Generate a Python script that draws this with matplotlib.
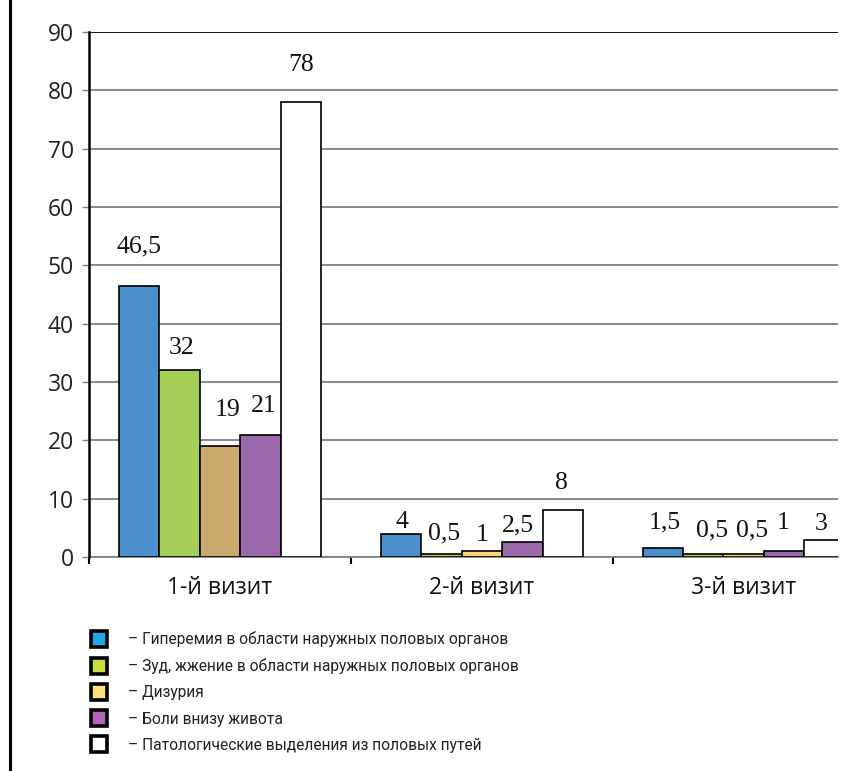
import matplotlib
matplotlib.use("Agg")
import matplotlib.pyplot as plt
import numpy as np
from matplotlib.lines import Line2D

# ---- data ----
visits = ["1-й визит", "2-й визит", "3-й визит"]
series_names = [
    "Гиперемия в области наружных половых органов",
    "Зуд, жжение в области наружных половых органов",
    "Дизурия",
    "Боли внизу живота",
    "Патологические выделения из половых путей",
]
hyperemia = [46.5, 4, 1.5]
itching = [32, 0.5, 0.5]
dysuria = [19, 1, 0.5]
pain = [21, 2.5, 1]
discharge = [78, 8, 3]
value_labels = [
    ["46,5", "4", "1,5"],
    ["32", "0,5", "0,5"],
    ["19", "1", "0,5"],
    ["21", "2,5", "1"],
    ["78", "8", "3"],
]
y_ticks = [0, 10, 20, 30, 40, 50, 60, 70, 80, 90]

# ---- styles ----
series = [hyperemia, itching, dysuria, pain, discharge]
bar_colors = [
    ["#4b8fcd"] * 3,
    ["#a6cf58"] * 3,
    ["#c9a96c", "#f7d475", "#f7d475"],
    ["#9a68ab"] * 3,
    ["#ffffff"] * 3,
]
legend_colors = ["#22a7e2", "#c8dc3a", "#fde07e", "#b363b3", "#ffffff"]
# label offsets in pixels (dx, dy above bar top)
label_off = [
    [(0, 39), (1, 12), (2, 26)],
    [(2, 22), (3, 21), (9, 24)],
    [(8, 36), (0, 16), (8, 24)],
    [(3, 29), (-4, 17), (-1, 28)],
    [(0, 37), (-1, 27), (-4, 16)],
]

W, H, DPI = 860, 771, 100
fig = plt.figure(figsize=(W / DPI, H / DPI), dpi=DPI)
px = 72.0 / DPI

ax = fig.add_axes([89 / W, 1 - 557 / H, (838 - 89) / W, (557 - 32) / H])

x = np.arange(len(visits))
bw = 0.1546
for i, vals in enumerate(series):
    pos = x + (i - 2) * bw
    bars = ax.bar(pos, vals, width=bw, color=bar_colors[i], edgecolor="black",
                  linewidth=1.2, zorder=3)
    for j, b in enumerate(bars):
        dx, dy = label_off[i][j]
        ax.annotate(value_labels[i][j], (b.get_x() + b.get_width() / 2, b.get_height()),
                    xytext=(dx * px, dy * px), textcoords="offset points",
                    ha="center", va="center", fontsize=18.5,
                    family="Liberation Serif", color="#111111", zorder=4)

ax.set_xlim(-0.5, 2.36)
ax.set_ylim(0, 90)
ax.set_yticks(y_ticks)
ax.set_yticklabels([str(t) for t in y_ticks], family="Open Sans", fontsize=16.5, color="#222222")
for t in y_ticks:
    ax.axhline(t, color="black" if t == 90 else "#808080", lw=1.3, zorder=1)

ax.set_xticks(x)
ax.set_xticklabels(visits, family="Open Sans", fontsize=16.5, color="#111111")
ax.set_xticks([-0.5, 0.5, 1.5], minor=True)
ax.tick_params(axis="x", which="major", length=0, pad=14)
ax.tick_params(axis="x", which="minor", length=5, width=1.5, color="black", direction="out")
ax.tick_params(axis="y", length=5, width=1.0, color="#808080", pad=6)

for s in ["top", "right"]:
    ax.spines[s].set_visible(False)
ax.spines["left"].set_linewidth(1.8)
ax.spines["left"].set_color("black")
ax.spines["bottom"].set_color("#808080")
ax.spines["bottom"].set_linewidth(1.3)
ax.spines["left"].set_zorder(5)

# legend
handles = [Line2D([], [], linestyle="none", marker="s", markersize=11.5,
                  markerfacecolor=c, markeredgecolor="black", markeredgewidth=2.6)
           for c in legend_colors]
labels = ["– " + n for n in series_names]
fig.legend(handles, labels, loc="upper left", bbox_to_anchor=(92 / W, 1 - 631 / H),
           frameon=False, prop={"family": "Roboto", "size": 11.2},
           handlelength=0.95, handletextpad=1.35, labelspacing=0.72,
           borderpad=0, borderaxespad=0, labelcolor="#222222")

# page border line at left
fig.add_artist(Line2D([9.5 / W, 9.5 / W], [0, 1], color="black", lw=2.2,
                      transform=fig.transFigure))

fig.savefig("out.png", dpi=DPI)
